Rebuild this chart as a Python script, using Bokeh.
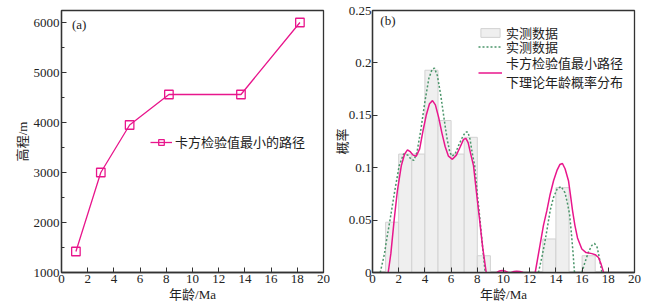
from bokeh.plotting import figure
from bokeh.layouts import row
from bokeh.models import Range1d, FixedTicker, Legend, LegendItem, Label
from bokeh.embed import file_html
from bokeh.resources import INLINE

# ---------- data panel (a) ----------
age_a = [1.1, 3.0, 5.2, 8.2, 13.7, 18.2]
elev_a = [1420, 3000, 3950, 4560, 4560, 6000]
legend_a = "卡方检验值最小的路径"

# ---------- data panel (b) ----------
bin_left = [1, 2, 3, 4, 5, 6, 7, 8, 13, 14, 16]
bin_right = [2, 3, 4, 5, 6, 7, 8, 9, 14, 15, 17]
bin_prob = [0.048, 0.113, 0.113, 0.193, 0.145, 0.113, 0.129, 0.016, 0.032, 0.081, 0.016]

obs_x = [0.59, 0.9, 1.1, 1.35, 1.7, 2.04, 2.37, 2.7, 2.95, 3.16, 3.4, 3.7, 4.0, 4.3, 4.55, 4.73,
         4.95, 5.2, 5.45, 5.7, 5.9, 6.06, 6.3, 6.6, 6.9, 7.1, 7.28, 7.45, 7.6, 7.8, 8.0, 8.2, 8.4, 8.6,
         float("nan"),
         12.67, 12.9, 13.13, 13.35, 13.56, 13.8, 14.1, 14.4, 14.7, 14.9, 15.05, 15.2, 15.3, 15.42,
         float("nan"),
         15.98, 16.2, 16.5, 16.75, 16.95, 17.15, 17.3, 17.51]
obs_y = [0.0, 0.017, 0.033, 0.051, 0.078, 0.102, 0.113, 0.112, 0.108, 0.107, 0.115, 0.137, 0.163, 0.185, 0.194, 0.195,
         0.188, 0.170, 0.148, 0.127, 0.115, 0.111, 0.113, 0.122, 0.130, 0.134, 0.134, 0.127, 0.115, 0.102, 0.075, 0.051, 0.025, 0.0,
         float("nan"),
         0.0, 0.013, 0.027, 0.043, 0.059, 0.071, 0.080, 0.082, 0.076, 0.065, 0.055, 0.035, 0.020, 0.0,
         float("nan"),
         0.0, 0.009, 0.020, 0.026, 0.0277, 0.024, 0.015, 0.0]

theo_x = [1.2, 1.4, 1.66, 1.9, 2.2, 2.45, 2.67, 2.9, 3.1, 3.34, 3.6, 3.85, 4.1, 4.35, 4.58, 4.8, 5.05,
          5.3, 5.55, 5.8, 6.1, 6.4, 6.7, 6.95, 7.13, 7.3, 7.5, 7.71, 7.95, 8.17, 8.4, 8.68,
          float("nan"),
          9.5, 9.7, 9.9, 10.1, 10.35,
          float("nan"),
          10.6, 10.8, 11.0, 11.25, 11.5,
          float("nan"),
          12.42, 12.8, 13.05, 13.31, 13.55, 13.82, 14.1, 14.3, 14.5, 14.7, 14.96, 15.1, 15.27, 15.45,
          15.65, 15.98, 16.3, 16.75, 17.0, 17.25, 17.45, 17.64]
theo_y = [0.0, 0.018, 0.051, 0.078, 0.102, 0.113, 0.117, 0.115, 0.112, 0.111, 0.118, 0.135, 0.150, 0.161, 0.164, 0.160, 0.148,
          0.133, 0.120, 0.111, 0.108, 0.112, 0.120, 0.127, 0.128, 0.124, 0.113, 0.102, 0.075, 0.051, 0.025, 0.0,
          float("nan"),
          0.0, 0.0015, 0.002, 0.0015, 0.0,
          float("nan"),
          0.0, 0.001, 0.0012, 0.001, 0.0,
          float("nan"),
          0.0, 0.027, 0.045, 0.059, 0.074, 0.0876, 0.098, 0.103, 0.104, 0.099, 0.0876, 0.075, 0.059, 0.045,
          0.033, 0.0224, 0.019, 0.018, 0.017, 0.0143, 0.008, 0.0]

legend_b = ["实测数据", "实测数据", "卡方检验值最小路径\n下理论年龄概率分布"]

x_ticks = [0, 2, 4, 6, 8, 10, 12, 14, 16, 18, 20]
ya_ticks = [1000, 2000, 3000, 4000, 5000, 6000]
ya_minor = [1500, 2500, 3500, 4500, 5500]
yb_ticks = [0, 0.05, 0.1, 0.15, 0.2, 0.25]
yb_labels = ["0", "0.05", "0.1", "0.15", "0.2", "0.25"]

MAGENTA = "#e8168c"
GREEN = "#4a956a"
AXC = "#333333"
SERIF = "'Liberation Serif', 'Noto Sans CJK SC'"


def style(p, ylab):
    p.outline_line_color = AXC
    p.outline_line_width = 1.3
    p.grid.visible = False
    p.background_fill_color = "white"
    p.border_fill_color = "white"
    for ax in (p.xaxis[0], p.yaxis[0]):
        ax.axis_line_color = AXC
        ax.axis_line_width = 1.3
        ax.major_tick_line_color = AXC
        ax.minor_tick_line_color = AXC
        ax.major_tick_in = 5
        ax.major_tick_out = 0
        ax.minor_tick_in = 3
        ax.minor_tick_out = 0
        ax.major_label_text_font = SERIF
        ax.major_label_text_font_size = "13px"
        ax.major_label_text_color = "#222222"
        ax.axis_label_text_font = SERIF
        ax.axis_label_text_font_size = "13px"
        ax.axis_label_text_font_style = "normal"
        ax.axis_label_text_color = "#222222"
        ax.major_label_standoff = 2
        ax.axis_label_standoff = 1
    p.xaxis[0].ticker = FixedTicker(ticks=x_ticks)
    p.xaxis[0].axis_label = "年龄/Ma"
    p.yaxis[0].axis_label = ylab


def make_legend(items, loc, gw, gh, standoff):
    return Legend(items=items, location=loc, padding=0, margin=0, spacing=0,
                  glyph_width=gw, glyph_height=gh, label_standoff=standoff,
                  label_text_font=SERIF, label_text_font_size="13px",
                  label_text_color="#222222", label_height=14,
                  border_line_alpha=0, background_fill_alpha=0)


# ---------- panel (a) ----------
pa = figure(width=330, height=305, output_backend="svg", toolbar_location=None,
            x_range=Range1d(0, 20), y_range=Range1d(1000, 6240),
            min_border_left=61, min_border_right=7, min_border_top=7, min_border_bottom=33)
style(pa, "高程/m")
pa.yaxis[0].ticker = FixedTicker(ticks=ya_ticks, minor_ticks=ya_minor)
la = pa.line(age_a, elev_a, line_color=MAGENTA, line_width=1.3)
sa = pa.scatter(age_a, elev_a, marker="square", size=8.5, fill_color="white", fill_alpha=0,
                line_color=MAGENTA, line_width=1.3)
pa.add_layout(make_legend([LegendItem(label=legend_a, renderers=[la, sa])], (89, 121), 22, 14, 3))
pa.add_layout(Label(x=0.8, y=5960, text="(a)", text_font=SERIF, text_font_size="13px",
                    text_baseline="middle", text_color="#222222"))

# ---------- panel (b) ----------
pb = figure(width=315, height=305, output_backend="svg", toolbar_location=None,
            x_range=Range1d(0, 20), y_range=Range1d(0, 0.25),
            min_border_left=42, min_border_right=11, min_border_top=10, min_border_bottom=33)
style(pb, "概率")
pb.yaxis[0].major_label_standoff = 1
pb.yaxis[0].axis_label_standoff = -4
pb.yaxis[0].ticker = FixedTicker(ticks=yb_ticks)
pb.yaxis[0].major_label_overrides = {t: l for t, l in zip(yb_ticks, yb_labels)}
qb = pb.quad(left=bin_left, right=bin_right, bottom=0, top=bin_prob,
             fill_color="#efefef", line_color="#d2d2d2", line_width=1)
lo = pb.line(obs_x, obs_y, line_color=GREEN, line_width=1.5, line_dash="2 2")
lt = pb.line(theo_x, theo_y, line_color=MAGENTA, line_width=1.5)
pb.add_layout(make_legend([LegendItem(label=legend_b[0], renderers=[qb])], (106, 230), 24, 11, 4))
pb.add_layout(make_legend([LegendItem(label=legend_b[1], renderers=[lo])], (106, 216), 24, 11, 4))
pb.add_layout(make_legend([LegendItem(label=legend_b[2], renderers=[lt])], (106, 181), 24, 11, 4))
pb.add_layout(Label(x=0.6, y=0.24, text="(b)", text_font=SERIF, text_font_size="13px",
                    text_baseline="middle", text_color="#222222"))

layout = row(pa, pb)
open("out.html", "w").write(file_html(layout, INLINE))
